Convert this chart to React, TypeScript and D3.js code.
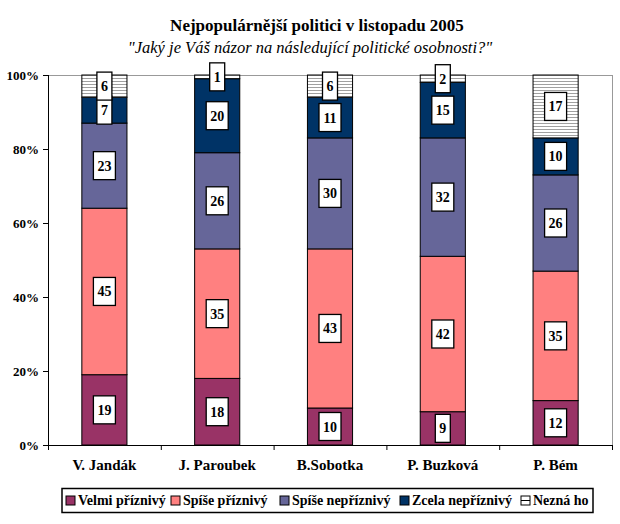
import React from "react";
import * as d3 from "d3";

const categories = ["V. Jandák", "J. Paroubek", "B.Sobotka", "P. Buzková", "P. Bém"];
const seriesNames = ["Velmi příznivý", "Spíše příznivý", "Spíše nepříznivý", "Zcela nepříznivý", "Nezná ho"];
const velmiPriznivy = [19, 18, 10, 9, 12];
const spisePriznivy = [45, 35, 43, 42, 35];
const spiseNepriznivy = [23, 26, 30, 32, 26];
const zcelaNepriznivy = [7, 20, 11, 15, 10];
const neznaHo = [6, 1, 6, 2, 17];
const yTicks = [0, 20, 40, 60, 80, 100];
const colors = ["#993366", "#FF8080", "#666699", "#003366", "url(#stripes)"];

const W = 620;
const H = 524;
const plot = { left: 48, right: 612, top: 75, bottom: 445 };
const FONT = "Liberation Serif";
const legendX = [66, 171, 280, 400, 521];

export default function App() {
  const series = [velmiPriznivy, spisePriznivy, spiseNepriznivy, zcelaNepriznivy, neznaHo];
  const rows = categories.map((c, i) => {
    const r: any = { cat: c };
    seriesNames.forEach((s, k) => (r[s] = series[k][i]));
    return r;
  });
  const stack = d3.stack<any>().keys(seriesNames)(rows);
  const x = d3
    .scaleBand<string>()
    .domain(categories)
    .range([plot.left, plot.right])
    .paddingInner(0.6)
    .paddingOuter(0.3);
  const y = d3.scaleLinear().domain([0, 100]).range([plot.bottom, plot.top]);
  const step = (plot.right - plot.left) / categories.length;
  const catTicks = d3.range(categories.length + 1).map((i) => plot.left + i * step);
  const ts = { fontFamily: FONT };

  return (
    <svg width={W} height={H} style={{ position: "absolute", left: 0, top: 0, background: "#fff" }}>
      <defs>
        <pattern id="stripes" width="4" height="3" patternUnits="userSpaceOnUse">
          <rect width="4" height="3" fill="#fff" />
          <line x1="0" x2="4" y1="0.5" y2="0.5" stroke="#a0a0a0" strokeWidth="1" />
        </pattern>
      </defs>
      <rect width={W} height={H} fill="#fff" />
      <text style={ts} x={317} y={31} textAnchor="middle" fontWeight="bold" fontSize={17}>
        Nejpopulárnější politici v listopadu 2005
      </text>
      <text style={ts} x={310} y={53} textAnchor="middle" fontStyle="italic" fontSize={16.5}>
        "Jaký je Váš názor na následující politické osobnosti?"
      </text>
      <line x1={plot.left} x2={plot.right} y1={plot.top + 0.5} y2={plot.top + 0.5} stroke="#999" />
      <line x1={plot.right + 0.5} x2={plot.right + 0.5} y1={plot.top} y2={plot.bottom} stroke="#999" />
      {stack.map((layer, k) => (
        <g key={k}>
          {layer.map((d, i) => (
            <rect
              key={i}
              x={x(categories[i])!}
              width={x.bandwidth()}
              y={y(d[1])}
              height={y(d[0]) - y(d[1])}
              fill={colors[k]}
              stroke="#000"
              strokeWidth={1}
            />
          ))}
        </g>
      ))}
      {stack.map((layer, k) => (
        <g key={"l" + k}>
          {layer.map((d, i) => {
            const v = series[k][i];
            const cx = x(categories[i])! + x.bandwidth() / 2;
            const cy = (y(d[0]) + y(d[1])) / 2;
            const w = String(v).length * 7 + 8;
            const h = 28;
            return (
              <g key={i}>
                <rect x={cx - w / 2} y={cy - h / 2} width={w} height={h} fill="#fff" stroke="#000" strokeWidth={1.3} />
                <text style={ts} x={cx} y={cy + 5} textAnchor="middle" fontWeight="bold" fontSize={14}>
                  {v}
                </text>
              </g>
            );
          })}
        </g>
      ))}
      <line x1={plot.left + 0.5} x2={plot.left + 0.5} y1={plot.top} y2={plot.bottom} stroke="#000" />
      <line x1={plot.left - 5} x2={plot.right + 1} y1={plot.bottom + 0.5} y2={plot.bottom + 0.5} stroke="#000" />
      {yTicks.map((t) => (
        <g key={t}>
          <line x1={plot.left - 5} x2={plot.left} y1={y(t) + 0.5} y2={y(t) + 0.5} stroke="#000" />
          <text style={ts} x={plot.left - 9} y={y(t) + 5} textAnchor="end" fontWeight="bold" fontSize={13}>
            {t}%
          </text>
        </g>
      ))}
      {catTicks.map((t, i) => (
        <line key={i} x1={t + 0.5} x2={t + 0.5} y1={plot.bottom} y2={plot.bottom + 5} stroke="#000" />
      ))}
      {categories.map((c) => (
        <text style={ts} key={c} x={x(c)! + x.bandwidth() / 2} y={470} textAnchor="middle" fontWeight="bold" fontSize={15}>
          {c}
        </text>
      ))}
      <rect x={62} y={488.5} width={531} height={24} fill="#fff" stroke="#000" strokeWidth={1.5} />
      {seriesNames.map((s, k) => (
        <g key={s}>
          <rect x={legendX[k]} y={496} width={9} height={9} fill={k === 4 ? "#fff" : colors[k]} stroke="#000" />
          {k === 4 && <line x1={legendX[k]} x2={legendX[k] + 9} y1={500.5} y2={500.5} stroke="#000" />}
          <text style={ts} x={legendX[k] + 12} y={505} fontWeight="bold" fontSize={14}>
            {s}
          </text>
        </g>
      ))}
    </svg>
  );
}
